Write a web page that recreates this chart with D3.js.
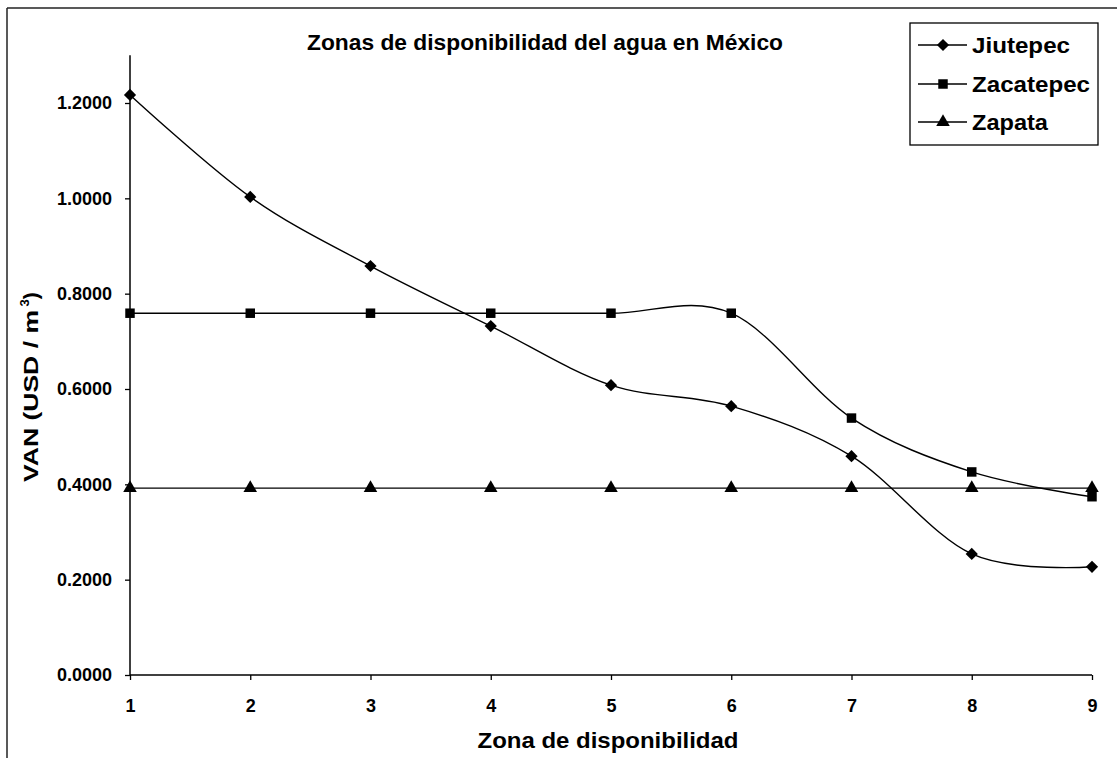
<!DOCTYPE html>
<html><head><meta charset="utf-8">
<script src="https://cdn.jsdelivr.net/npm/d3@7/dist/d3.min.js"></script>
<style>body{margin:0;background:#fff}svg{display:block}text{font-family:"Liberation Sans",Arial,sans-serif;font-weight:bold;fill:#000}</style>
</head><body><svg id="c" width="1117" height="758"></svg>
<script>
const zones = [1,2,3,4,5,6,7,8,9];
const jiutepec = [1.217,1.003,0.858,0.732,0.608,0.564,0.459,0.254,0.227];
const zacatepec = [0.759,0.759,0.759,0.759,0.759,0.759,0.539,0.426,0.374];
const zapata = [0.392,0.392,0.392,0.392,0.392,0.392,0.392,0.392,0.392];
const yTicks = [0,0.2,0.4,0.6,0.8,1.0,1.2];
const seriesNames = ["Jiutepec","Zacatepec","Zapata"];
const symbolTypes = [d3.symbolDiamond2, d3.symbolSquare, d3.symbolTriangle];

const svg = d3.select("#c");
const x = d3.scaleLinear().domain([1,9]).range([130,1092]);
const y = d3.scaleLinear().domain([0,1.2]).range([675,103]);
const yTop = 1.3;

// outer frame
svg.append("line").attr("x1",7).attr("x2",7).attr("y1",8).attr("y2",758).attr("stroke","#222").attr("stroke-width",1.5);
svg.append("line").attr("x1",7).attr("x2",1117).attr("y1",8).attr("y2",8).attr("stroke","#222").attr("stroke-width",1.5);

// axes
const yAxis = d3.axisLeft(y).tickValues(yTicks).tickSize(5).tickPadding(13).tickFormat(d3.format(".4f"));
const gy = svg.append("g").attr("transform","translate(130,0)").call(yAxis);
gy.select(".domain").remove();
gy.append("line").attr("x1",0).attr("x2",0).attr("y1",y(0)).attr("y2",y(yTop)).attr("stroke","#000").attr("stroke-width",1.5);
gy.selectAll(".tick line").attr("stroke","#000").attr("stroke-width",1.3);
gy.selectAll(".tick text").style("font-size","18px").attr("fill","#000");

const xAxis = d3.axisBottom(x).tickValues(zones).tickSize(5).tickPadding(19).tickFormat(d3.format("d"));
const gx = svg.append("g").attr("transform","translate(0,675)").call(xAxis);
gx.select(".domain").attr("stroke","#000").attr("stroke-width",1.5).attr("d","M130,0H1092");
gx.selectAll(".tick line").attr("stroke","#000").attr("stroke-width",1.3);
gx.selectAll(".tick text").style("font-size","18px").attr("fill","#000");

// series
const data = [jiutepec, zacatepec, zapata];
const line = d3.line().x((d,i)=>x(zones[i])).y(d=>y(d)).curve(d3.curveCardinal.tension(0));
const sizes = [95, 90, 80];
data.forEach((vals,s)=>{
  svg.append("path").attr("d",line(vals)).attr("fill","none").attr("stroke","#000").attr("stroke-width",1.4);
  svg.append("g").selectAll("path").data(vals).join("path")
    .attr("transform",(d,i)=>`translate(${x(zones[i])},${y(d)})`)
    .attr("d",d3.symbol().type(symbolTypes[s]).size(sizes[s])).attr("fill","#000");
});

// title
svg.append("text").attr("x",545).attr("y",50).attr("text-anchor","middle").style("font-size","22px")
  .attr("textLength",476).attr("lengthAdjust","spacingAndGlyphs").text("Zonas de disponibilidad del agua en México");

// axis titles
svg.append("text").attr("x",608).attr("y",748).attr("text-anchor","middle").style("font-size","22px")
  .attr("textLength",261).attr("lengthAdjust","spacingAndGlyphs").text("Zona de disponibilidad");
const yt = svg.append("text").attr("transform","translate(38,482) rotate(-90)").style("font-size","21px");
yt.append("tspan").attr("textLength",172).attr("lengthAdjust","spacingAndGlyphs").text("VAN (USD / m");
yt.append("tspan").attr("dy",-9).style("font-size","13px").text(" 3");
yt.append("tspan").attr("dy",9).text(")");

// legend
const lg = svg.append("g");
lg.append("rect").attr("x",910).attr("y",23).attr("width",188).attr("height",122).attr("fill","#fff").attr("stroke","#000").attr("stroke-width",1.3);
const ly = [45,84,122];
const lw = [98,118,76];
seriesNames.forEach((n,i)=>{
  lg.append("line").attr("x1",918).attr("x2",967).attr("y1",ly[i]).attr("y2",ly[i]).attr("stroke","#000").attr("stroke-width",1.4);
  lg.append("path").attr("transform",`translate(943,${ly[i]})`).attr("d",d3.symbol().type(symbolTypes[i]).size(sizes[i])).attr("fill","#000");
  lg.append("text").attr("x",972).attr("y",ly[i]+8).style("font-size","22px")
    .attr("textLength",lw[i]).attr("lengthAdjust","spacingAndGlyphs").text(n);
});
</script></body></html>
